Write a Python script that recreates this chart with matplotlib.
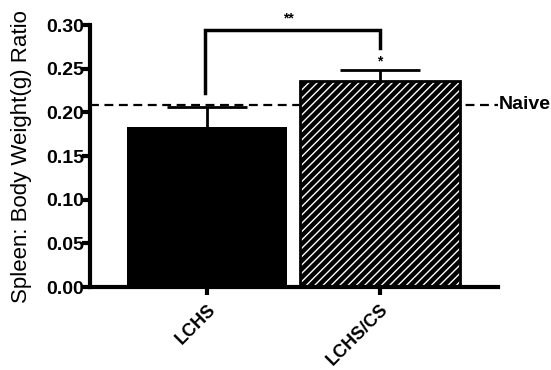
import numpy as np
import matplotlib.pyplot as plt

# data
groups = ['LCHS', 'LCHS/CS']
means = [0.183, 0.236]
sem = [0.023, 0.0125]
naive = 0.209
yticks = [0.00, 0.05, 0.10, 0.15, 0.20, 0.25, 0.30]

plt.rcParams['font.family'] = ['Liberation Sans', 'DejaVu Sans']
plt.rcParams['hatch.linewidth'] = 1.0

fig = plt.figure(figsize=(5.51, 3.70), dpi=100)
ax = fig.add_axes([0.163, 0.2243, 0.741, 0.7077])

x = np.arange(len(groups))
w = 0.925
cap = 0.23

# upper error bars only
tops = [m + e for m, e in zip(means, sem)]
ax.vlines(x, means, tops, color='black', linewidth=2, zorder=1)
ax.hlines(tops, x - cap, x + cap, color='black', linewidth=2, zorder=1)

ax.bar(x[0], means[0], width=w, color='black', edgecolor='black', linewidth=0, zorder=2)
ax.bar(x[1], means[1], width=w, color='black', edgecolor='white', hatch='////',
       linewidth=0, zorder=2)
ax.bar(x[1], means[1], width=w, fill=False, edgecolor='black', linewidth=2, zorder=3)

# naive reference line
ax.axhline(naive, color='black', linestyle=(0, (4, 2.5)), linewidth=1.6, zorder=0,
           clip_on=False)
ax.text(1.684, naive, 'Naive', fontsize=14, fontweight='bold', va='center', ha='left')

# significance bracket
yb = 0.294
ax.plot([x[0] - 0.01, x[0] - 0.01, x[1], x[1]], [0.222, yb, yb, 0.274],
        color='black', linewidth=2.5, clip_on=False, solid_joinstyle='miter')
ax.text((x[0] + x[1]) / 2 - 0.03, 0.300, '**', fontsize=10, fontweight='bold',
        ha='center', va='bottom')
ax.text(x[1], 0.250, '*', fontsize=10, fontweight='bold', ha='center', va='bottom')

ax.set_xlim(-0.676, 1.682)
ax.set_ylim(0, 0.30)
ax.set_yticks(yticks)
ax.set_yticklabels(['%.2f' % t for t in yticks], fontsize=14, fontweight='bold')
ax.set_xticks(x)
ax.set_xticklabels(groups, fontsize=13, fontweight='bold', rotation=45,
                   ha='right', rotation_mode='anchor')
ax.set_ylabel('Spleen: Body Weight(g) Ratio', fontsize=16)
ax.yaxis.set_label_coords(-0.142, 0.5)

for s in ['top', 'right']:
    ax.spines[s].set_visible(False)
for s in ['left', 'bottom']:
    ax.spines[s].set_linewidth(3)
ax.tick_params(axis='both', width=3, length=6, direction='out')
ax.tick_params(axis='y', pad=-2)
ax.tick_params(axis='x', pad=4)

fig.savefig('out.png', dpi=100)
